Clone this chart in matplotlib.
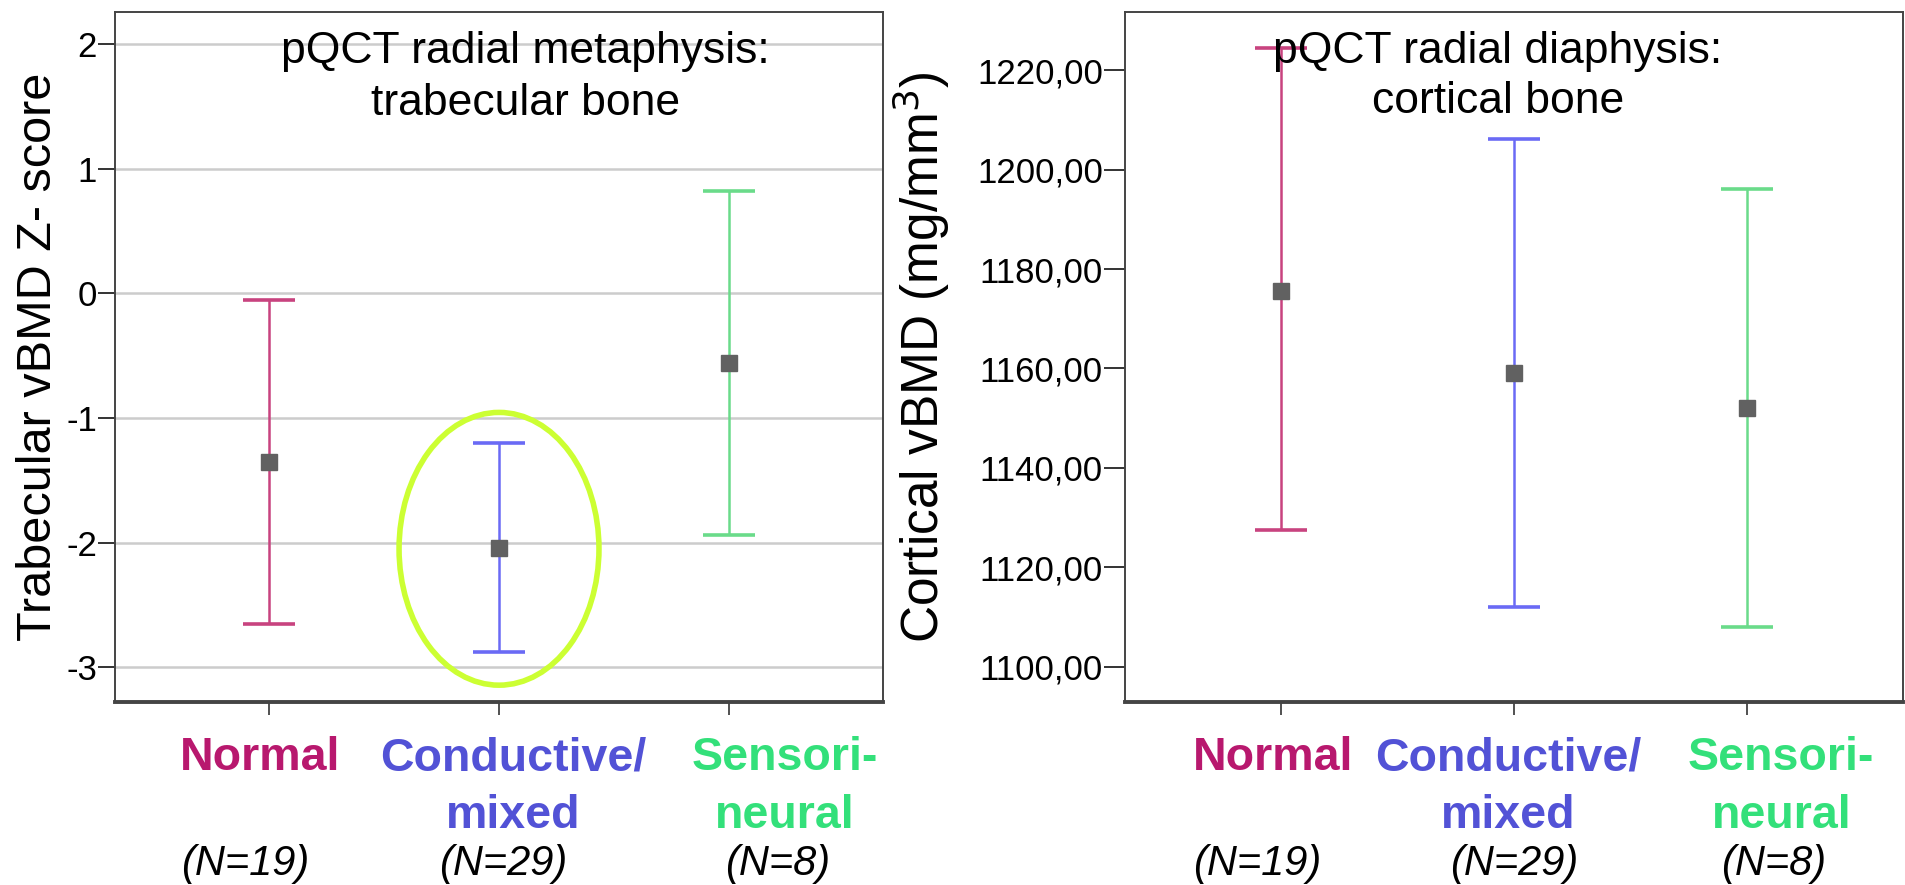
import numpy as np
import matplotlib
matplotlib.use("Agg")
import matplotlib.pyplot as plt
from matplotlib.patches import Ellipse

# groups and summary values (mean with 95% CI)
groups = ["Normal", "Conductive/\nmixed", "Sensori-\nneural"]
group_n = ["(N=19)", "(N=29)", "(N=8)"]
label_colors = ["#B8186E", "#5252D6", "#33E07A"]
bar_colors = ["#C8437F", "#6A6AF5", "#6ADB8A"]

trab_mean = [-1.35, -2.04, -0.56]
trab_low = [-2.65, -2.88, -1.94]
trab_high = [-0.05, -1.20, 0.82]

cort_mean = [1175.5, 1159.0, 1152.0]
cort_low = [1127.4, 1112.0, 1108.0]
cort_high = [1224.4, 1206.1, 1196.0]

plt.rcParams['font.family'] = ['Liberation Sans', 'DejaVu Sans']

fig = plt.figure(figsize=(19.05, 8.85), dpi=100)
ax1 = fig.add_axes([0.0604, 0.2068, 0.4031, 0.7796])
ax2 = fig.add_axes([0.5906, 0.2068, 0.4084, 0.7796])

x = np.arange(len(groups))


def draw(ax, mean, low, high, name_dx, n_dx, ytick_len):
    for i in range(len(groups)):
        ax.errorbar(x[i], mean[i],
                    yerr=[[mean[i] - low[i]], [high[i] - mean[i]]],
                    fmt='none', ecolor=bar_colors[i], elinewidth=1.8,
                    capsize=19, capthick=2.6, zorder=3)
    ax.plot(x, mean, 's', color='#616161', markersize=11, zorder=4)
    ax.set_xlim(-0.667, 2.667)
    ax.set_xticks(x)
    ax.set_xticklabels([])
    ax.tick_params(axis='x', length=9, width=1.2, color='#333333')
    ax.tick_params(axis='y', length=ytick_len, width=1.4, color='#333333',
                   labelsize=25, pad=1)
    for sp in ax.spines.values():
        sp.set_color('#444444')
        sp.set_linewidth(1.4)
    ax.spines['bottom'].set_linewidth(2.8)
    # group labels below the axis, one line at a time
    tr = ax.get_xaxis_transform()
    for i in range(len(groups)):
        for j, line in enumerate(groups[i].split("\n")):
            ax.text(x[i] + name_dx[i], -0.0986 - 0.0845 * j, line, transform=tr,
                    ha='center', va='baseline', fontsize=33.5, fontweight='bold',
                    color=label_colors[i])
        ax.text(x[i] + n_dx[i], -0.251, group_n[i], transform=tr,
                ha='center', va='baseline', fontsize=30, style='italic', color='black')


def title(ax, xc, lines, y0, y1):
    for yy, line in zip([y0, y1], lines):
        ax.text(xc, yy, line, transform=ax.transAxes, ha='center', va='baseline',
                fontsize=32)


draw(ax1, trab_mean, trab_low, trab_high,
     [-0.037, 0.06, 0.24], [-0.10, 0.017, 0.21], 12)
ax1.set_ylim(-3.28, 2.26)
ax1.set_yticks([-3, -2, -1, 0, 1, 2])
ax1.set_yticklabels(["-3", "-2", "-1", "0", "1", "2"])
ax1.yaxis.grid(True, color='#cccccc', linewidth=1.8, zorder=0)
ax1.set_axisbelow(True)
ax1.set_ylabel("Trabecular vBMD Z- score", fontsize=35)
ax1.yaxis.set_label_coords(-0.071, 0.5)
title(ax1, 0.534, ["pQCT radial metaphysis:", "trabecular bone"], 0.926, 0.851)
ax1.add_patch(Ellipse((1.0, -2.05), 0.868, 2.19, fill=False, edgecolor='#CCFF33',
                      linewidth=4, zorder=5))

draw(ax2, cort_mean, cort_low, cort_high,
     [-0.034, -0.026, 0.145], [-0.10, 0.0, 0.11], 15)
ax2.set_ylim(1092.9, 1231.7)
ax2.set_yticks(np.arange(1100, 1221, 20))
ax2.set_yticklabels(["%d,00" % v for v in np.arange(1100, 1221, 20)])
ax2.set_ylabel("Cortical vBMD (mg/mm$^3$)", fontsize=37)
ax2.yaxis.set_label_coords(-0.222, 0.5)
title(ax2, 0.479, ["pQCT radial diaphysis:", "cortical bone"], 0.926, 0.853)

fig.savefig("out.png", dpi=100)
